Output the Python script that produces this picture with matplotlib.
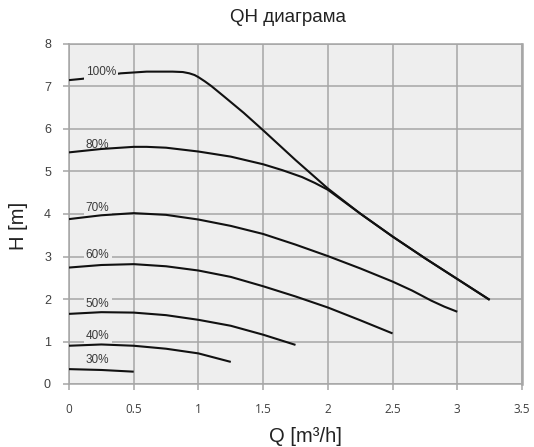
import matplotlib
matplotlib.use("Agg")
import matplotlib.pyplot as plt

q100 = [0, 0.1, 0.2, 0.3, 0.4, 0.5, 0.6, 0.7, 0.8, 0.88, 0.93, 0.97, 1.0, 1.05, 1.1, 1.2, 1.35, 1.5, 1.75, 2.0, 2.25, 2.5, 2.75, 3.0, 3.25]
h100 = [7.15, 7.18, 7.22, 7.27, 7.31, 7.33, 7.35, 7.35, 7.35, 7.34, 7.31, 7.27, 7.22, 7.12, 7.01, 6.76, 6.38, 5.97, 5.27, 4.6, 4.01, 3.47, 2.96, 2.47, 1.98]
q80 = [0, 0.25, 0.5, 0.6, 0.75, 1.0, 1.25, 1.5, 1.65, 1.8, 1.9, 2.0, 2.25, 2.5, 2.75, 3.0, 3.25]
h80 = [5.45, 5.53, 5.58, 5.58, 5.56, 5.47, 5.35, 5.17, 5.03, 4.87, 4.73, 4.57, 4.01, 3.47, 2.96, 2.47, 1.98]
q70 = [0, 0.25, 0.5, 0.75, 1.0, 1.25, 1.5, 1.75, 2.0, 2.25, 2.5, 2.65, 2.8, 2.9, 3.0]
h70 = [3.88, 3.97, 4.02, 3.98, 3.87, 3.72, 3.53, 3.28, 3.01, 2.72, 2.41, 2.20, 1.96, 1.82, 1.70]
q60 = [0, 0.25, 0.5, 0.75, 1.0, 1.25, 1.5, 1.75, 2.0, 2.25, 2.5]
h60 = [2.74, 2.80, 2.82, 2.77, 2.67, 2.52, 2.30, 2.06, 1.80, 1.50, 1.19]
q50 = [0, 0.25, 0.5, 0.75, 1.0, 1.25, 1.5, 1.75]
h50 = [1.65, 1.69, 1.68, 1.62, 1.51, 1.37, 1.16, 0.92]
q40 = [0, 0.25, 0.5, 0.75, 1.0, 1.25]
h40 = [0.90, 0.93, 0.90, 0.83, 0.72, 0.52]
q30 = [0, 0.25, 0.5]
h30 = [0.35, 0.33, 0.29]

labels = ["100%", "80%", "70%", "60%", "50%", "40%", "30%"]
label_h = [7.35, 5.62, 4.14, 3.03, 1.88, 1.14, 0.56]

xticks = [0, 0.5, 1, 1.5, 2, 2.5, 3, 3.5]
xticklabels = ["0", "0.5", "1", "1.5", "2", "2.5", "3", "3.5"]
yticks = [0, 1, 2, 3, 4, 5, 6, 7, 8]

fig = plt.figure(figsize=(5.34, 4.47), dpi=100)
ax = fig.add_axes([69/534, 63/447, 453/534, 340/447])
ax.set_facecolor("#eeeeee")

for q, h in [(q100, h100), (q80, h80), (q70, h70), (q60, h60), (q50, h50), (q40, h40), (q30, h30)]:
    ax.plot(q, h, color="#111111", lw=1.5, zorder=3, solid_capstyle="butt", solid_joinstyle="round")

for i, (lab, hh) in enumerate(zip(labels, label_h)):
    ax.text(0.13, hh, lab, fontsize=8.5, family="Liberation Sans", color="#3a3a3a",
            ha="left", va="center", zorder=4 if i == 0 else 2.5,
            bbox=dict(facecolor="#eeeeee", edgecolor="none", pad=1.5))

ax.set_xlim(0, 3.5)
ax.set_ylim(0, 8)
ax.set_xticks(xticks)
ax.set_xticklabels(xticklabels)
ax.set_yticks(yticks)
ax.grid(True, color="#a6a6a6", lw=1.1, zorder=0)
ax.set_axisbelow(True)
for s in ax.spines.values():
    s.set_color("#a6a6a6")
    s.set_linewidth(1.1)
ax.spines["right"].set_linewidth(1.8)
ax.tick_params(axis="both", color="#a6a6a6", length=4, width=1.1, direction="out")
ax.tick_params(axis="x", pad=10, labelsize=8.5, labelcolor="#404040")
ax.tick_params(axis="y", pad=9, labelsize=9, labelcolor="#404040")
for t in ax.get_xticklabels():
    t.set_family("Open Sans")
for t in ax.get_yticklabels():
    t.set_family("Liberation Sans")

fig.text(288/534, 1 - 18/447, "QH диаграма", fontsize=13.5, family="Liberation Sans",
         color="#222222", ha="center", va="center")
fig.text(305/534, 1 - 436/447, "Q [m³/h]", fontsize=14.5, family="Liberation Sans",
         color="#222222", ha="center", va="center")
fig.text(18/534, 1 - 226/447, "H [m]", fontsize=14.5, family="Liberation Sans",
         color="#222222", ha="center", va="center", rotation=90)

fig.savefig("out.png", dpi=100)
